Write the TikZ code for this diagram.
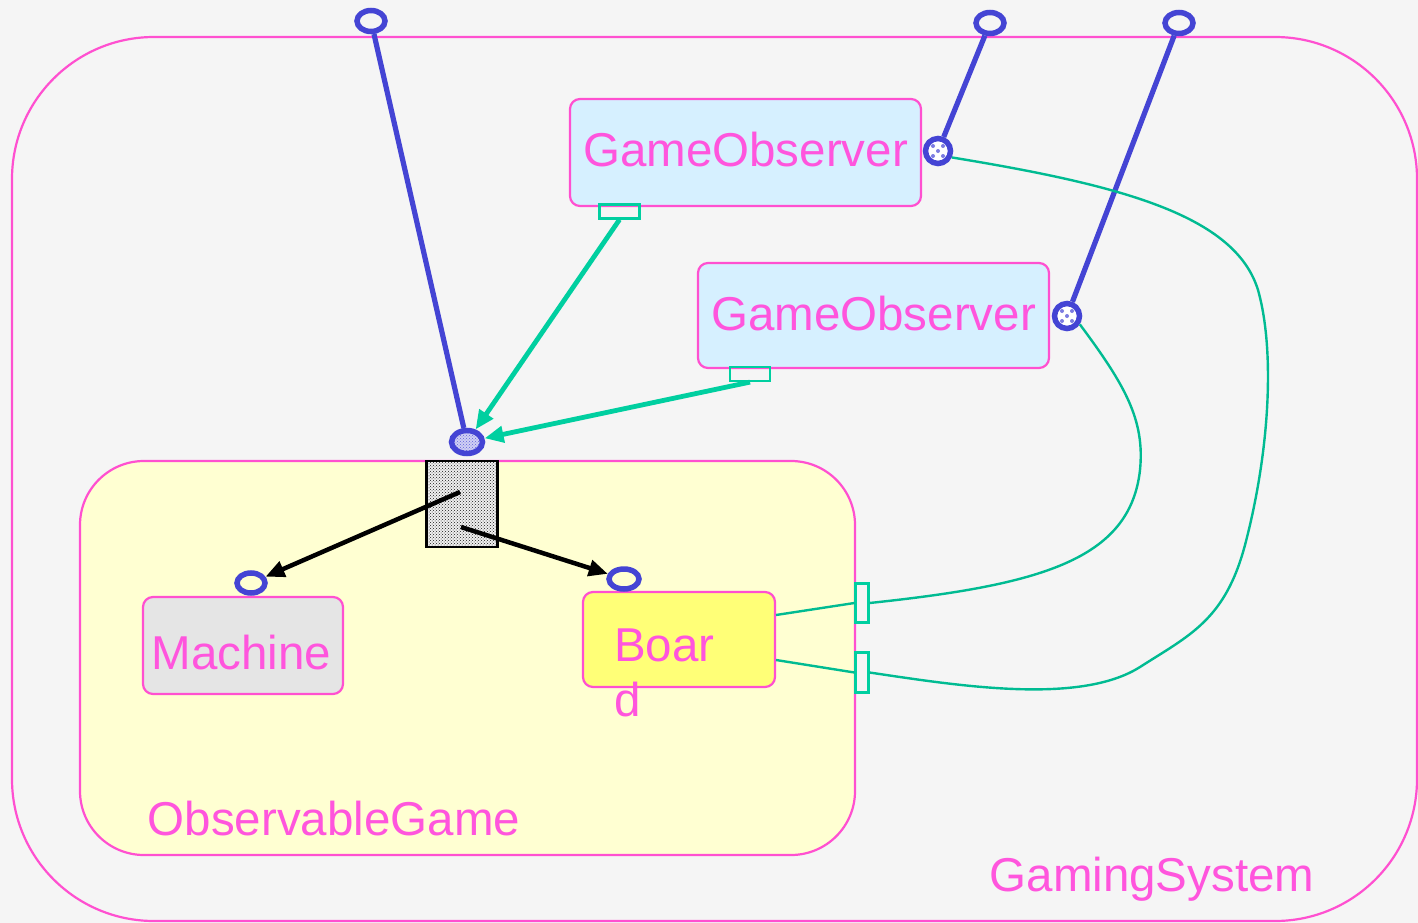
\documentclass[tikz,border=0pt]{standalone}
\usepackage{fontspec}
\setmainfont{Liberation Sans}
\usetikzlibrary{shapes.geometric,patterns,arrows.meta}
\definecolor{bgc}{HTML}{F5F5F5}
\definecolor{edgepink}{HTML}{FF50D0}
\definecolor{txtpink}{HTML}{FF55DD}
\definecolor{obsfill}{HTML}{D6F0FF}
\definecolor{gamefill}{HTML}{FFFFD2}
\definecolor{machfill}{HTML}{E5E5E5}
\definecolor{boardfill}{HTML}{FFFF77}
\definecolor{portblue}{HTML}{4444D4}
\definecolor{flowgreen}{HTML}{00CFA0}
\definecolor{wiregreen}{HTML}{00BB92}
\begin{document}
\begin{tikzpicture}[x=1pt,y=-1pt,
  lbl/.style={text=txtpink, font=\fontsize{47.5}{55}\selectfont, inner sep=0pt},
  container/.style={draw=edgepink, line width=2.2pt, inner sep=0pt},
  partbox/.style={draw=edgepink, line width=2.2pt, rounded corners=10pt, inner sep=0pt},
  port/.style={ellipse, draw=portblue, line width=5.5pt, inner sep=0pt},
  relayport/.style={ellipse, draw=portblue, line width=5.5pt, inner sep=0pt,
    preaction={fill=portblue!25}, pattern=crosshatch dots, pattern color=portblue!85},
  dotport/.style={circle, draw=portblue, line width=5.5pt, fill=white, inner sep=0pt,
    minimum size=25pt,
    path picture={\foreach \dx/\dy in {-5/-5,5/-5,0/0,-5/5,5/5}
      \fill[portblue!70] ([shift={(\dx,\dy)}]path picture bounding box.center) circle (2pt);}},
  sap/.style={draw=flowgreen, line width=2.2pt, inner sep=0pt},
  bind/.style={draw=portblue, line width=5.2pt},
  flow/.style={draw=flowgreen, line width=4.8pt, -{Triangle[length=19pt,width=16pt]}},
  link/.style={draw=black, line width=4.5pt, -{Triangle[length=19pt,width=16pt]}},
  wire/.style={draw=wiregreen, line width=2.4pt},
]
\useasboundingbox (0,0) rectangle (1418,923);
\fill[bgc] (0,0) rectangle (1418,923);

% containers
\node[container, rounded corners=142pt, minimum width=1405pt, minimum height=884pt]
  (sys) at (714.5,479) {};
\node[lbl, anchor=base] (syslabel) at (1152,891) {GamingSystem};
\node[container, fill=gamefill, rounded corners=64pt, minimum width=775pt, minimum height=394pt]
  (game) at (467.5,658) {};
\node[lbl, anchor=base] (gamelabel) at (334,835) {ObservableGame};

% observers
\node[partbox, fill=obsfill, minimum width=351pt, minimum height=107pt] (obs1) at (745.5,152.5) {};
\node[lbl, anchor=base] (obs1text) at (745.5,166) {GameObserver};
\node[partbox, fill=obsfill, minimum width=351pt, minimum height=105pt] (obs2) at (873.5,315.5) {};
\node[lbl, anchor=base] (obs2text) at (873.5,330) {GameObserver};

% parts of the game
\node[partbox, fill=machfill, minimum width=200pt, minimum height=97pt] (machine) at (243,645.5) {};
\node[lbl, anchor=base] (machtext) at (241.5,669) {Machine};
\node[partbox, fill=boardfill, minimum width=192pt, minimum height=95pt] (board) at (679,639.5) {};
\node[lbl, anchor=base west] (boardtext1) at (614,661) {Boar};
\node[lbl, anchor=base west] (boardtext2) at (614,716) {d};

% relay square
\node[draw=black, line width=2.5pt, preaction={fill=gray!12}, pattern=crosshatch dots,
  pattern color=black!90, minimum width=71pt, minimum height=86pt, inner sep=0pt] (relay) at (462,504) {};
\coordinate (rA) at (460,492);
\coordinate (rB) at (461,527);

% service access points
\node[sap, minimum width=40pt, minimum height=14pt] (sap1) at (619.5,211.5) {};
\node[sap, minimum width=40pt, minimum height=14pt] (sap2) at (750,374) {};
\node[sap, fill=bgc, minimum width=13pt, minimum height=39pt] (bp1) at (862,603) {};
\node[sap, fill=bgc, minimum width=13pt, minimum height=40pt] (bp2) at (862,672.5) {};
\coordinate (bo1) at (776,615);
\coordinate (bo2) at (776,660);

% ports
\node[port, minimum width=28pt, minimum height=21pt] (top1) at (371,21) {};
\node[port, minimum width=28pt, minimum height=21pt] (top2) at (990,23) {};
\node[port, minimum width=28pt, minimum height=21pt] (top3) at (1179,23) {};
\node[relayport, minimum width=31pt, minimum height=23pt] (hub) at (467,442) {};
\node[dotport] (dp1) at (938,151) {};
\node[dotport] (dp2) at (1067,316) {};
\node[port, minimum width=28pt, minimum height=20pt] (mport) at (251,583) {};
\node[port, minimum width=30pt, minimum height=20pt] (bport) at (624,579) {};

% bindings
\draw[bind] (top1) -- (hub);
\draw[bind] (top2) -- (dp1);
\draw[bind] (top3) -- (dp2);

% flows into the hub
\draw[flow] (sap1.south) -- (hub);
\draw[flow] (sap2.south) -- (hub);

% relay links
\draw[link] (rA) -- (mport);
\draw[link] (rB) -- (bport);

% board connections
\draw[wire] (bo1) -- (bp1.west);
\draw[wire] (bo2) -- (bp2.west);
\draw[wire] (dp1.-25) .. controls (1120,185) and (1235,215) .. (1258,290)
  .. controls (1275,350) and (1270,450) .. (1245,545)
  .. controls (1225,620) and (1190,635) .. (1140,667)
  .. controls (1080,705) and (960,686) .. (bp2.east);
\draw[wire] (dp2.-33) .. controls (1125,385) and (1145,420) .. (1140,470)
  .. controls (1130,560) and (1040,585) .. (bp1.east);
\end{tikzpicture}
\end{document}
